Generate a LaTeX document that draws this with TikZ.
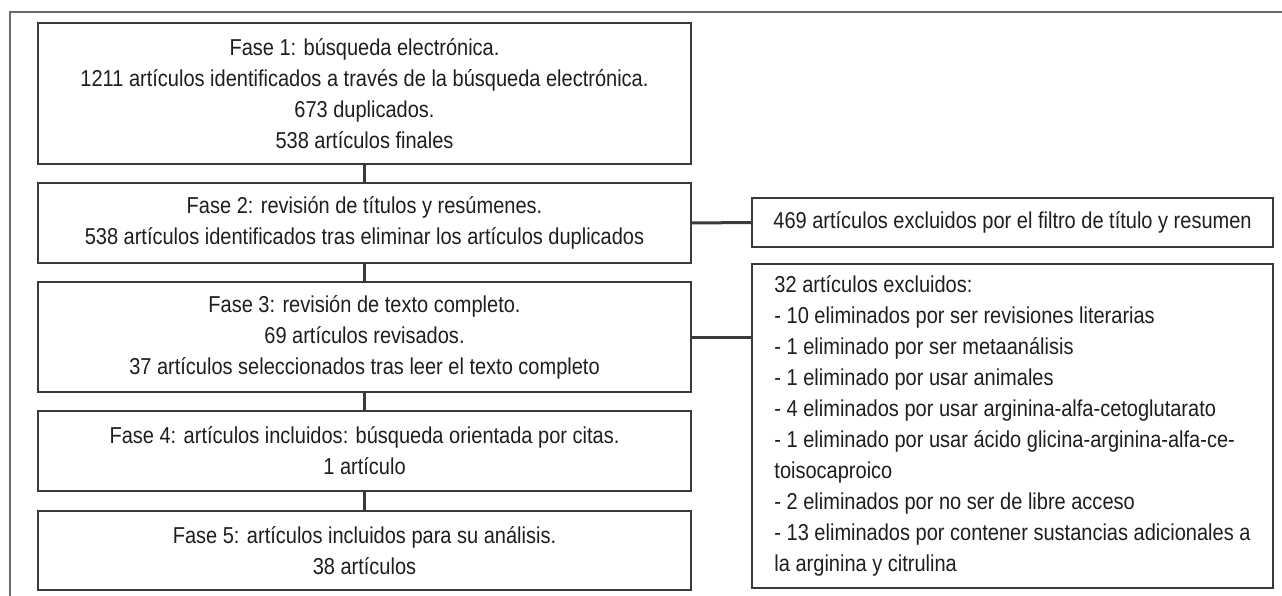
\documentclass[tikz,border=0pt]{standalone}
\usepackage{fontspec}
\setmainfont[FakeStretch=0.87]{Liberation Sans}
\definecolor{boxline}{HTML}{3A3A3A}
\definecolor{frameline}{HTML}{6A6A6A}
\definecolor{txt}{HTML}{1E1E1E}
\begin{document}
\begin{tikzpicture}[x=1pt,y=-1pt,
  phase/.style={draw=boxline, line width=1.3pt, inner sep=0pt, outer sep=0pt,
    minimum width=653pt, align=center, text=txt,
    font=\fontsize{23}{31}\selectfont},
  excl/.style={draw=boxline, line width=1.3pt, inner sep=0pt, outer sep=0pt,
    minimum width=521pt, text=txt, font=\fontsize{23}{31}\selectfont},
  link/.style={draw=boxline, line width=3pt}]
\useasboundingbox (0,0) rectangle (1282,596);
\draw[frameline, line width=1.6pt] (10,596) -- (10,12) -- (1282,12);

\node[phase, minimum height=141pt] (b1) at (364.5,93.5)
  {Fase 1: búsqueda electrónica.\\1211 artículos identificados a través de la búsqueda electrónica.\\673 duplicados.\\538 artículos finales};
\node[phase, minimum height=80pt] (b2) at (364.5,223)
  {Fase 2: revisión de títulos y resúmenes.\\538 artículos identificados tras eliminar los artículos duplicados};
\node[phase, minimum height=110pt] (b3) at (364.5,337)
  {Fase 3: revisión de texto completo.\\69 artículos revisados.\\37 artículos seleccionados tras leer el texto completo};
\node[phase, minimum height=80pt] (b4) at (364.5,451)
  {Fase 4: artículos incluidos: búsqueda orientada por citas.\\1 artículo};
\node[phase, minimum height=79pt] (b5) at (364.5,550.5)
  {Fase 5: artículos incluidos para su análisis.\\38 artículos};

\node[excl, minimum height=49pt] (r1) at (1012.5,222.5)
  {469 artículos excluidos por el filtro de título y resumen};
\node[excl, minimum height=324pt, align=left] (r2) at (1012.5,426)
  {32 artículos excluidos:\\
   - 10 eliminados por ser revisiones literarias\\
   - 1 eliminado por ser metaanálisis\\
   - 1 eliminado por usar animales\\
   - 4 eliminados por usar arginina-alfa-cetoglutarato\\
   - 1 eliminado por usar ácido glicina-arginina-alfa-ce-\\
   toisocaproico\\
   - 2 eliminados por no ser de libre acceso\\
   - 13 eliminados por contener sustancias adicionales a\\
   la arginina y citrulina};

\draw[link] (b1.south) -- (b2.north);
\draw[link] (b2.south) -- (b3.north);
\draw[link] (b3.south) -- (b4.north);
\draw[link] (b4.south) -- (b5.north);
\draw[link] (b2.east) -- (r1.west);
\draw[link] (b3.east) -- (b3.east -| r2.west);
\end{tikzpicture}
\end{document}
